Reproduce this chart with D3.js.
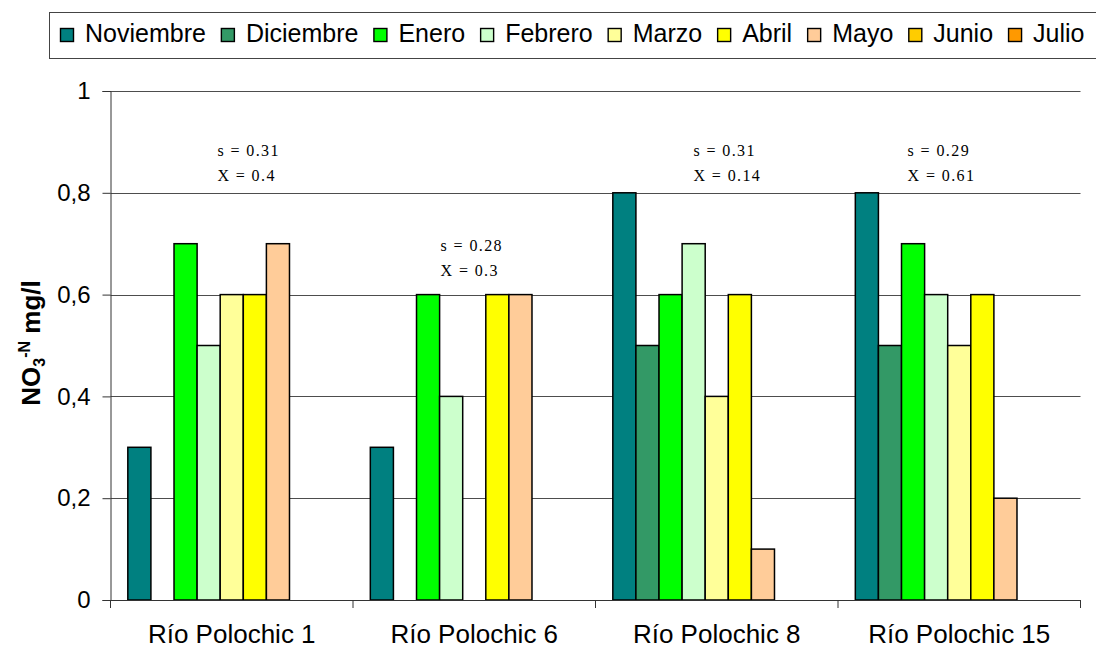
<!DOCTYPE html>
<html>
<head>
<meta charset="utf-8">
<script src="https://cdn.jsdelivr.net/npm/d3@7/dist/d3.min.js"></script>
<style>
  html, body { margin: 0; padding: 0; background: #fff; }
  svg { display: block; }
</style>
</head>
<body>
<svg id="chart" width="1096" height="648"></svg>
<script>
// Sampling sites along the Río Polochic
const sites = ["Río Polochic 1", "Río Polochic 6", "Río Polochic 8", "Río Polochic 15"];

// Sampling months (series)
const months = ["Noviembre", "Diciembre", "Enero", "Febrero", "Marzo", "Abril", "Mayo", "Junio", "Julio"];
const monthColors = ["#008080", "#339966", "#00FF00", "#CCFFCC", "#FFFF99", "#FFFF00", "#FFCC99", "#FFCC00", "#FF9900"];

// NO3-N (mg/l) per month, one value per site (null = no sample)
const noviembre = [0.3, 0.3, 0.8, 0.8];
const diciembre = [null, null, 0.5, 0.5];
const enero     = [0.7, 0.6, 0.6, 0.7];
const febrero   = [0.5, 0.4, 0.7, 0.6];
const marzo     = [0.6, null, 0.4, 0.5];
const abril     = [0.6, 0.6, 0.6, 0.6];
const mayo      = [0.7, 0.6, 0.1, 0.2];
const junio     = [null, null, null, null];
const julio     = [null, null, null, null];
const seriesValues = [noviembre, diciembre, enero, febrero, marzo, abril, mayo, junio, julio];

// Summary statistics per site
const sdLabels   = ["s = 0.31", "s = 0.28", "s = 0.31", "s = 0.29"];
const meanLabels = ["X = 0.4", "X = 0.3", "X = 0.14", "X = 0.61"];

// Y axis ticks
const yTicks = [0, 0.2, 0.4, 0.6, 0.8, 1];

const svg = d3.select("#chart");
const plot = { left: 110.5, right: 1080.5, top: 91, bottom: 600 };

const x = d3.scaleBand().domain(sites).range([plot.left, plot.right]).paddingInner(0).paddingOuter(0);
const xm = d3.scaleBand().domain(months).range([0, x.bandwidth()]).paddingInner(0).paddingOuter(0.75);
const y = d3.scaleLinear().domain([0, 1]).range([plot.bottom, plot.top]);

const fmt = v => String(v).replace(".", ",");

// Horizontal gridlines
svg.append("g")
  .selectAll("line")
  .data(yTicks.filter(t => t > 0))
  .join("line")
  .attr("x1", plot.left).attr("x2", plot.right)
  .attr("y1", d => Math.round(y(d)) + 0.5).attr("y2", d => Math.round(y(d)) + 0.5)
  .attr("stroke", "#4d4d4d").attr("stroke-width", 1);

// Bars
const barData = [];
seriesValues.forEach((vals, mi) => {
  vals.forEach((v, si) => {
    if (v != null) barData.push({ site: sites[si], month: months[mi], value: v, color: monthColors[mi] });
  });
});

svg.append("g")
  .selectAll("rect")
  .data(barData)
  .join("rect")
  .attr("x", d => x(d.site) + xm(d.month))
  .attr("y", d => y(d.value))
  .attr("width", xm.bandwidth())
  .attr("height", d => y(0) - y(d.value))
  .attr("fill", d => d.color)
  .attr("stroke", "#000")
  .attr("stroke-width", 1.5);

// Y axis
const yAxis = d3.axisLeft(y).tickValues(yTicks).tickFormat(fmt).tickSize(8).tickPadding(12);
const gy = svg.append("g").attr("transform", `translate(${plot.left},0)`).call(yAxis);
gy.select(".domain").attr("stroke", "#333");
gy.selectAll(".tick line").attr("stroke", "#333");
gy.selectAll(".tick text")
  .attr("font-family", "Arial, 'Liberation Sans', sans-serif")
  .attr("font-size", 24).attr("fill", "#000");

// X axis with ticks on group boundaries
const gx = svg.append("g").attr("transform", `translate(0,${plot.bottom})`);
gx.append("line")
  .attr("x1", plot.left).attr("x2", plot.right)
  .attr("y1", 0.5).attr("y2", 0.5)
  .attr("stroke", "#333");
const boundaries = sites.map(s => x(s)).concat([plot.right]);
gx.selectAll("line.tick")
  .data(boundaries)
  .join("line")
  .attr("class", "tick")
  .attr("x1", d => d).attr("x2", d => d)
  .attr("y1", 0).attr("y2", 8)
  .attr("stroke", "#333");
gx.selectAll("text")
  .data(sites)
  .join("text")
  .attr("x", d => x(d) + x.bandwidth() / 2)
  .attr("y", 43)
  .attr("text-anchor", "middle")
  .attr("font-family", "Arial, 'Liberation Sans', sans-serif")
  .attr("font-size", 26)
  .attr("fill", "#000")
  .text(d => d);

// Y axis title: NO3-N mg/l
const title = svg.append("text")
  .attr("transform", "translate(40,343) rotate(-90)")
  .attr("text-anchor", "middle")
  .attr("font-family", "Arial, 'Liberation Sans', sans-serif")
  .attr("font-weight", "bold")
  .attr("font-size", 26)
  .attr("fill", "#000");
title.append("tspan").text("NO");
title.append("tspan").attr("font-size", 16).attr("dy", 5).text("3");
title.append("tspan").attr("font-size", 16).attr("dy", -15).text("-N");
title.append("tspan").attr("dy", 10).text(" mg/l");

// Per-site statistics, anchored in data space (fraction of band, value)
const statAnchors = [
  { frac: 0.441, v: 0.88 },
  { frac: 0.361, v: 0.692 },
  { frac: 0.404, v: 0.88 },
  { frac: 0.287, v: 0.88 }
];
const stats = svg.append("g")
  .attr("font-family", "'Liberation Serif', 'DejaVu Serif', serif")
  .attr("font-size", 16)
  .attr("letter-spacing", 1.4)
  .attr("fill", "#000");
sites.forEach((s, i) => {
  const ax = x(s) + statAnchors[i].frac * x.bandwidth();
  const ay = y(statAnchors[i].v);
  stats.append("text").attr("x", ax).attr("y", ay).attr("dominant-baseline", "middle").text(sdLabels[i]);
  stats.append("text").attr("x", ax).attr("y", ay + 25).attr("dominant-baseline", "middle").text(meanLabels[i]);
});

// Legend
const legend = svg.append("g");
legend.append("rect")
  .attr("x", 49.5).attr("y", 12.5).attr("width", 1100).attr("height", 46)
  .attr("fill", "#fff").attr("stroke", "#444").attr("stroke-width", 1);
let lx = 60;
months.forEach((m, i) => {
  legend.append("rect")
    .attr("x", lx + 0.5).attr("y", 28.5).attr("width", 13).attr("height", 13)
    .attr("fill", monthColors[i]).attr("stroke", "#000").attr("stroke-width", 1.4);
  const t = legend.append("text")
    .attr("x", lx + 25).attr("y", 42)
    .attr("font-family", "Arial, 'Liberation Sans', sans-serif")
    .attr("font-size", 25)
    .attr("fill", "#000")
    .text(m);
  lx += 25 + t.node().getComputedTextLength() + 15;
});
</script>
</body>
</html>
